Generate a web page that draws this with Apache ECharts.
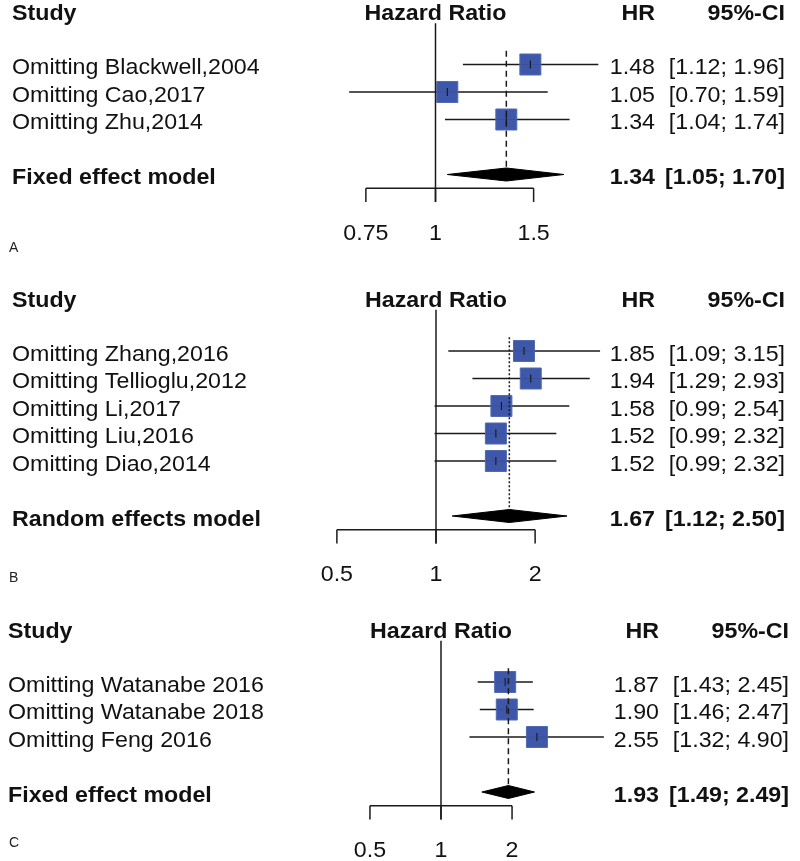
<!DOCTYPE html>
<html>
<head>
<meta charset="utf-8">
<script src="https://cdn.jsdelivr.net/npm/echarts@6/dist/echarts.min.js"></script>
<style>
html,body{margin:0;padding:0;background:#ffffff;}
#chart{width:800px;height:861px;}
</style>
</head>
<body>
<div id="chart"></div>
<script>
// ---------- DATA ----------
// Panel A
const studiesA = ['Omitting Blackwell,2004', 'Omitting Cao,2017', 'Omitting Zhu,2014'];
const hrA = [1.48, 1.05, 1.34];
const lowerA = [1.12, 0.70, 1.04];
const upperA = [1.96, 1.59, 1.74];
const summaryLabelA = 'Fixed effect model';
const summaryA = [1.34, 1.05, 1.70];
const ticksA = [0.75, 1, 1.5];
const tickLabelsA = ['0.75', '1', '1.5'];

// Panel B
const studiesB = ['Omitting Zhang,2016', 'Omitting Tellioglu,2012', 'Omitting Li,2017', 'Omitting Liu,2016', 'Omitting Diao,2014'];
const hrB = [1.85, 1.94, 1.58, 1.52, 1.52];
const lowerB = [1.09, 1.29, 0.99, 0.99, 0.99];
const upperB = [3.15, 2.93, 2.54, 2.32, 2.32];
const summaryLabelB = 'Random effects model';
const summaryB = [1.67, 1.12, 2.50];
const ticksB = [0.5, 1, 2];
const tickLabelsB = ['0.5', '1', '2'];

// Panel C
const studiesC = ['Omitting Watanabe 2016', 'Omitting Watanabe 2018', 'Omitting Feng 2016'];
const hrC = [1.87, 1.90, 2.55];
const lowerC = [1.43, 1.46, 1.32];
const upperC = [2.45, 2.47, 4.90];
const summaryLabelC = 'Fixed effect model';
const summaryC = [1.93, 1.49, 2.49];
const ticksC = [0.5, 1, 2];
const tickLabelsC = ['0.5', '1', '2'];

const headerStudy = 'Study';
const headerEffect = 'Hazard Ratio';
const headerHR = 'HR';
const headerCI = '95%-CI';
const panelLetters = ['A', 'B', 'C'];

// ---------- LAYOUT ----------
const FONT = '"Liberation Sans", Arial, sans-serif';
const FS = 22;
const SX = 1.055;
const ROW = 27.5;
const SQ = 21;
const GRID_L = 300, GRID_R = 640;
const LINE = '#1a1a1a';

const panels = [
  {studies: studiesA, hr: hrA, lo: lowerA, up: upperA, sumLabel: summaryLabelA, sum: summaryA,
   ticks: ticksA, tickLabels: tickLabelsA, dash: [6, 4],
   row0: 64.5, nullX: 435.5, ppl: 242, textX: 12, hrRight: 655, ciRight: 785, letterY: 249},
  {studies: studiesB, hr: hrB, lo: lowerB, up: upperB, sumLabel: summaryLabelB, sum: summaryB,
   ticks: ticksB, tickLabels: tickLabelsB, dash: [2, 2],
   row0: 351, nullX: 436, ppl: 143, textX: 12, hrRight: 655, ciRight: 785, letterY: 579},
  {studies: studiesC, hr: hrC, lo: lowerC, up: upperC, sumLabel: summaryLabelC, sum: summaryC,
   ticks: ticksC, tickLabels: tickLabelsC, dash: [6, 4],
   row0: 682, nullX: 441, ppl: 102.5, textX: 8, hrRight: 659, ciRight: 789, letterY: 844}
];

const grids = [], xAxes = [], yAxes = [], series = [];

function textEl(x, y, s, bold, align, size, scale) {
  return {
    type: 'text', x: x, y: y, scaleX: scale == null ? SX : scale, silent: true,
    style: {
      text: s, fill: '#111111', fontFamily: FONT, fontSize: size || FS,
      fontWeight: bold ? 'bold' : 'normal', align: align || 'left', verticalAlign: 'middle'
    }
  };
}

panels.forEach((p, pi) => {
  const n = p.studies.length;
  const sumRow = n + 1;
  const ymin = -2, ymax = sumRow + 2.2;
  grids.push({left: GRID_L, width: GRID_R - GRID_L, top: p.row0 + ymin * ROW, height: (ymax - ymin) * ROW, containLabel: false});
  xAxes.push({type: 'log', gridIndex: pi, show: false,
    min: Math.exp((GRID_L - p.nullX) / p.ppl), max: Math.exp((GRID_R - p.nullX) / p.ppl)});
  yAxes.push({type: 'value', gridIndex: pi, show: false, inverse: true, min: ymin, max: ymax});

  const ax = {xAxisIndex: pi, yAxisIndex: pi};

  // null (reference) line at HR = 1
  series.push(Object.assign({type: 'line', symbol: 'none', clip: false, silent: true,
    data: [[1, -1.5], [1, sumRow + 1.0]], lineStyle: {color: LINE, width: 1.5}}, ax));
  // summary estimate line
  series.push(Object.assign({type: 'line', symbol: 'none', clip: false, silent: true,
    data: [[p.sum[0], -0.5], [p.sum[0], sumRow - 0.27]], lineStyle: {color: LINE, width: 1.5, type: p.dash}}, ax));
  // axis line
  series.push(Object.assign({type: 'line', symbol: 'none', clip: false, silent: true,
    data: [[p.ticks[0], sumRow + 0.5], [p.ticks[p.ticks.length - 1], sumRow + 0.5]], lineStyle: {color: LINE, width: 1.5}}, ax));
  // ticks + tick labels
  series.push(Object.assign({type: 'custom', clip: false, silent: true,
    data: p.ticks.map(t => [t, sumRow + 0.5]),
    encode: {x: 0, y: 1},
    renderItem: (params, api) => {
      const a = api.coord([api.value(0), sumRow + 0.5]);
      const b = api.coord([api.value(0), sumRow + 1.0]);
      const l = api.coord([api.value(0), sumRow + 2.1]);
      return {type: 'group', children: [
        {type: 'line', shape: {x1: a[0], y1: a[1], x2: b[0], y2: b[1]}, style: {stroke: LINE, lineWidth: 1.5}},
        textEl(l[0], l[1] + 1.5, p.tickLabels[params.dataIndex], false, 'center')
      ]};
    }}, ax));
  // studies: CI lines and squares
  series.push(Object.assign({type: 'custom', clip: false, silent: true,
    data: p.hr.map((h, i) => [h, i, p.lo[i], p.up[i]]),
    encode: {x: 0, y: 1},
    renderItem: (params, api) => {
      const r = api.value(1);
      const c = api.coord([api.value(0), r]);
      const l = api.coord([api.value(2), r]);
      const u = api.coord([api.value(3), r]);
      return {type: 'group', children: [
        {type: 'line', shape: {x1: l[0], y1: c[1], x2: u[0], y2: c[1]}, style: {stroke: LINE, lineWidth: 1.5}},
        {type: 'rect', shape: {x: c[0] - SQ / 2, y: c[1] - SQ / 2, width: SQ, height: SQ},
          style: {fill: '#3E57A8', stroke: '#5169b6', lineWidth: 1}},
        {type: 'line', shape: {x1: c[0], y1: c[1] - 4, x2: c[0], y2: c[1] + 4}, style: {stroke: '#111', lineWidth: 1}},
        {type: 'line', shape: {x1: c[0] - SQ / 2, y1: c[1], x2: c[0] + SQ / 2, y2: c[1]}, style: {stroke: '#2a3a70', lineWidth: 0.8, opacity: 0.35}}
      ]};
    }}, ax));
  // summary diamond
  series.push(Object.assign({type: 'custom', clip: false, silent: true,
    data: [[p.sum[0], sumRow, p.sum[1], p.sum[2]]],
    encode: {x: 0, y: 1},
    renderItem: (params, api) => {
      const r = api.value(1);
      const c = api.coord([api.value(0), r]);
      const l = api.coord([api.value(2), r]);
      const u = api.coord([api.value(3), r]);
      const h = 6.5;
      return {type: 'polygon', shape: {points: [[l[0], c[1]], [c[0], c[1] - h], [u[0], c[1]], [c[0], c[1] + h]]},
        style: {fill: '#000000', stroke: '#000000', lineWidth: 1}};
    }}, ax));
  // texts
  const specs = [];
  specs.push({row: -1.95, x: p.textX, s: headerStudy, bold: true});
  specs.push({row: -1.95, xv: 1, s: headerEffect, bold: true, align: 'center'});
  specs.push({row: -1.95, x: p.hrRight, s: headerHR, bold: true, align: 'right'});
  specs.push({row: -1.95, x: p.ciRight, s: headerCI, bold: true, align: 'right'});
  p.studies.forEach((s, i) => {
    specs.push({row: i, x: p.textX, s: s});
    specs.push({row: i, x: p.hrRight, s: p.hr[i].toFixed(2), align: 'right'});
    specs.push({row: i, x: p.ciRight, s: '[' + p.lo[i].toFixed(2) + '; ' + p.up[i].toFixed(2) + ']', align: 'right'});
  });
  specs.push({row: sumRow, x: p.textX, s: p.sumLabel, bold: true});
  specs.push({row: sumRow, x: p.hrRight, s: p.sum[0].toFixed(2), bold: true, align: 'right'});
  specs.push({row: sumRow, x: p.ciRight, s: '[' + p.sum[1].toFixed(2) + '; ' + p.sum[2].toFixed(2) + ']', bold: true, align: 'right'});
  series.push(Object.assign({type: 'custom', clip: false, silent: true,
    data: specs.map(s => [1, s.row]),
    encode: {x: 0, y: 1},
    renderItem: (params, api) => {
      const sp = specs[params.dataIndex];
      const c = api.coord([sp.xv || 1, sp.row]);
      const x = sp.xv ? c[0] : sp.x;
      return textEl(x, c[1] + 3.5, sp.s, sp.bold, sp.align);
    }}, ax));
});

const letterEls = panels.map((p, i) => ({
  type: 'text', left: 9, top: p.letterY - 8,
  style: {text: panelLetters[i], fill: '#222', fontFamily: FONT, fontSize: 14}
}));

const chart = echarts.init(document.getElementById('chart'), null, {renderer: 'canvas'});
chart.setOption({
  animation: false,
  backgroundColor: '#ffffff',
  grid: grids,
  xAxis: xAxes,
  yAxis: yAxes,
  series: series,
  graphic: letterEls
});
</script>
</body>
</html>
